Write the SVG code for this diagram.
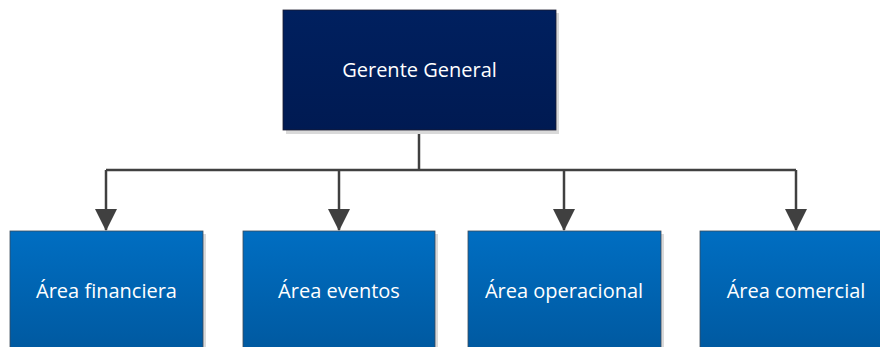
<svg xmlns="http://www.w3.org/2000/svg" width="880" height="347" viewBox="0 0 880 347">
<style>
.t{font-family:"Open Sans","Noto Sans",sans-serif;font-size:20px;fill:#ffffff;text-anchor:middle}
.sh{fill:#d9d9d9}
.c{stroke:#404040;stroke-width:2.5;fill:none}
</style>
<defs>
<linearGradient id="gb" x1="0" y1="0" x2="0" y2="1">
<stop offset="0" stop-color="#006EC2"/>
<stop offset="1" stop-color="#0059A0"/>
</linearGradient>
<linearGradient id="gt" x1="0" y1="0" x2="0" y2="1">
<stop offset="0" stop-color="#00205F"/>
<stop offset="1" stop-color="#001A52"/>
</linearGradient>
<marker id="ah" markerWidth="22" markerHeight="22" refX="21" refY="11" orient="auto" markerUnits="userSpaceOnUse" viewBox="0 0 22 22">
<path d="M0,0 L22,11 L0,22 Z" fill="#404040"/>
</marker>
</defs>
<g id="connectors">
<path class="c" d="M419,130 V170"/>
<path class="c" d="M106,170 H796"/>
<path class="c" d="M106,170 V230" marker-end="url(#ah)"/>
<path class="c" d="M339,170 V230" marker-end="url(#ah)"/>
<path class="c" d="M564,170 V230" marker-end="url(#ah)"/>
<path class="c" d="M796,170 V230" marker-end="url(#ah)"/>
</g>
<g id="gerente">
<rect class="sh" x="286" y="13" width="273" height="121"/>
<rect x="283" y="10" width="273" height="120" fill="url(#gt)" stroke="#1a1a2e" stroke-width="0.8"/>
<text class="t" x="419.5" y="77">Gerente General</text>
</g>
<g id="financiera">
<rect class="sh" x="13" y="234" width="193" height="120"/>
<rect x="10" y="231" width="193" height="120" fill="url(#gb)" stroke="#3a4a5a" stroke-width="0.8"/>
<text class="t" x="106.5" y="298">Área financiera</text>
</g>
<g id="eventos">
<rect class="sh" x="246" y="234" width="192" height="120"/>
<rect x="243" y="231" width="192" height="120" fill="url(#gb)" stroke="#3a4a5a" stroke-width="0.8"/>
<text class="t" x="339" y="298">Área eventos</text>
</g>
<g id="operacional">
<rect class="sh" x="471" y="234" width="193" height="120"/>
<rect x="468" y="231" width="193" height="120" fill="url(#gb)" stroke="#3a4a5a" stroke-width="0.8"/>
<text class="t" x="564" y="298">Área operacional</text>
</g>
<g id="comercial">
<rect class="sh" x="703" y="234" width="193" height="120"/>
<rect x="700" y="231" width="193" height="120" fill="url(#gb)" stroke="#3a4a5a" stroke-width="0.8"/>
<text class="t" x="796" y="298">Área comercial</text>
</g>
</svg>
